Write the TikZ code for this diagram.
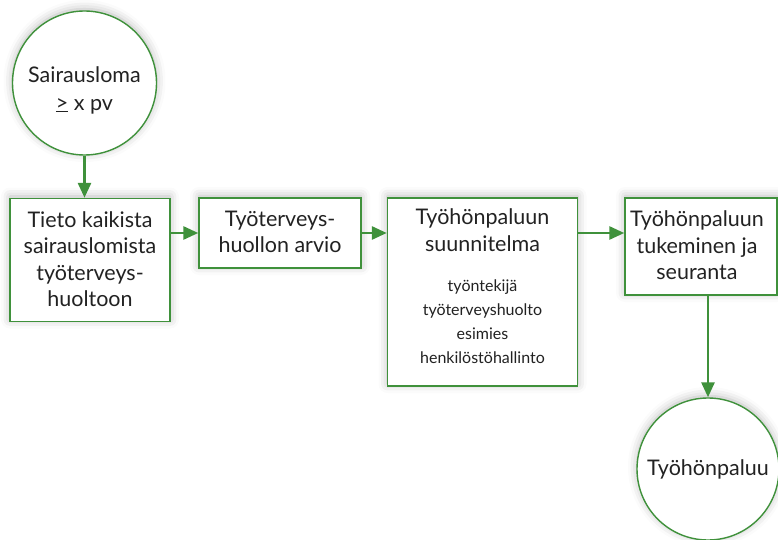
\documentclass[tikz,border=0pt]{standalone}
\usepackage{fontspec}
\setmainfont{Lato}
\usetikzlibrary{arrows.meta,shadows.blur,calc}
\definecolor{grn}{HTML}{3F913B}
\definecolor{txtc}{HTML}{222222}
\begin{document}
\begin{tikzpicture}[x=1pt,y=1pt,
  shad/.style={blur shadow={shadow xshift=0pt,shadow yshift=2pt,shadow blur radius=9pt,shadow opacity=28}},
  boxx/.style={draw=grn,line width=1.4pt,fill=white,rectangle,inner sep=0pt,shad},
  circ/.style={draw=grn,line width=1.4pt,fill=white,circle,inner sep=0pt,shad},
  txt/.style={text=txtc,align=center,font=\fontsize{21.5}{26.5}\selectfont,inner sep=0pt},
  stxt/.style={text=txtc,align=center,font=\fontsize{16}{24}\selectfont,inner sep=0pt},
  arr/.style={draw=grn,line width=2.8pt,-{Triangle[length=15pt,width=13pt]}}]
\useasboundingbox (0,0) rectangle (778,-540);
\begin{scope}
\clip (0,0) rectangle (778,-540);
\node[circ,minimum size=144pt] (c1) at (84.5,-83) {};
\node[txt] (c1t) at ([yshift=-7pt]c1.center) {Sairausloma\\[1.5pt]\underline{>} x pv};
\node[boxx,minimum width=160pt,minimum height=123pt] (b1) at (90,-260) {};
\node[txt] (b1t) at ([yshift=1pt]b1.center) {Tieto kaikista\\sairauslomista\\työterveys-\\huoltoon};
\node[boxx,minimum width=162pt,minimum height=70pt] (b2) at (280,-233) {};
\node[txt] (b2t) at ([yshift=1pt]b2.center) {Työterveys-\\huollon arvio};
\node[boxx,minimum width=190pt,minimum height=188pt] (b3) at (482.5,-292) {};
\node[txt] (b3t) at ([yshift=-33pt]b3.north) {Työhönpaluun\\suunnitelma};
\node[stxt] (b3s) at ([yshift=-124pt]b3.north) {työntekijä\\työterveyshuolto\\esimies\\henkilöstöhallinto};
\node[boxx,minimum width=152pt,minimum height=97pt] (b4) at (701,-246.5) {};
\node[txt] (b4t) at ([xshift=-4pt,yshift=1pt]b4.center) {Työhönpaluun\\tukeminen ja\\seuranta};
\node[circ,minimum size=142pt] (c2) at (708,-469) {};
\node[txt] (c2t) at (c2.center) {Työhönpaluu};
\draw[arr] (c1.south) -- (c1.south |- b1.north);
\draw[arr] (b1.east |- b2.west) -- (b2.west);
\draw[arr] (b2.east) -- (b2.east -| b3.west);
\draw[arr] (b3.east |- b2.east) -- (b2.east -| b4.west);
\draw[arr] (b4.south -| c2.north) -- (c2.north);
\end{scope}
\end{tikzpicture}
\end{document}
